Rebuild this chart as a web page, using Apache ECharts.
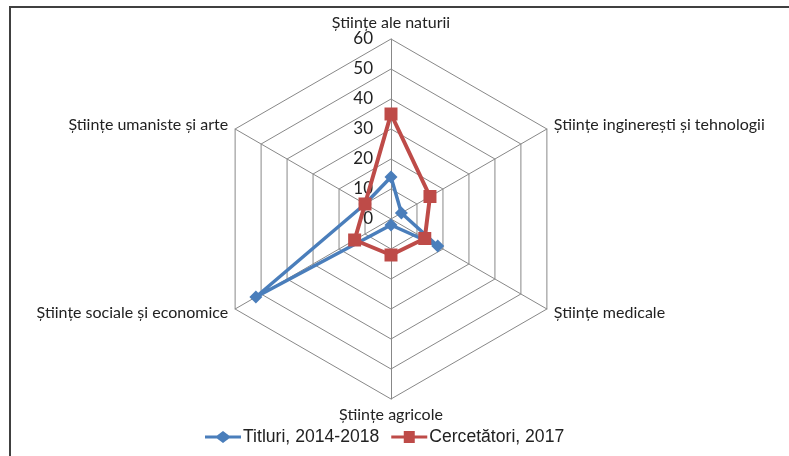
<!DOCTYPE html>
<html>
<head>
<meta charset="utf-8">
<script src="https://cdn.jsdelivr.net/npm/echarts@6/dist/echarts.min.js"></script>
<style>html,body{margin:0;padding:0;background:#fff}#c{width:789px;height:456px}</style>
</head>
<body>
<div id="c"></div>
<script>
// Indicators in ECharts order (counter-clockwise from top)
const categories = ['Științe ale naturii', 'Științe umaniste și arte', 'Științe sociale și economice', 'Științe agricole', 'Științe medicale', 'Științe inginerești și tehnologii'];
const seriesNames = ['Titluri, 2014-2018', 'Cercetători, 2017'];
const titluri = [14, 10, 52, 2, 18, 4];
const cercetatori = [35, 10, 14, 12, 13, 15];
const axisMax = 60;

const blue = '#4a7ebb', red = '#be4b48';
const diamondIcon = 'path://M0 4.5 L12 4.5 L18 0 L24 4.5 L36 4.5 L36 7.5 L24 7.5 L18 12 L12 7.5 L0 7.5 Z';
const squareIcon = 'path://M0 4.5 L12.5 4.5 L12.5 0 L23.5 0 L23.5 4.5 L36 4.5 L36 7.5 L23.5 7.5 L23.5 12 L12.5 12 L12.5 7.5 L0 7.5 Z';

const chart = echarts.init(document.getElementById('c'), null, {renderer: 'canvas'});
const indicator = categories.map((name, i) => {
  const o = {name: name, max: axisMax, min: 0};
  if (i !== 0) o.axisLabel = {show: false};
  return o;
});
chart.setOption({
  backgroundColor: '#fff',
  animation: false,
  graphic: [{
    type: 'rect', shape: {x: 10, y: 7, width: 900, height: 600},
    style: {fill: 'none', stroke: '#404040', lineWidth: 2}, silent: true
  }],
  legend: {
    top: 423, left: 200,
    itemWidth: 36, itemHeight: 12, itemGap: 12,
    textStyle: {fontFamily: 'Liberation Sans', fontSize: 17.6, color: '#222', padding: [0, 0, 0, -3]},
    data: [{name: seriesNames[0], icon: diamondIcon}, {name: seriesNames[1], icon: squareIcon}]
  },
  radar: {
    center: [391, 219], radius: 180,
    startAngle: 90, splitNumber: 6, shape: 'polygon',
    axisName: {fontFamily: 'Lato', fontSize: 16, color: '#222'},
    nameGap: 8,
    splitLine: {lineStyle: {color: '#888', width: 1}},
    splitArea: {show: false},
    axisLine: {lineStyle: {color: '#888', width: 1}},
    axisTick: {show: false},
    axisLabel: {show: true, fontFamily: 'Lato', fontSize: 17, color: '#222', margin: 18},
    indicator: indicator
  },
  series: [{
    type: 'radar',
    data: [
      {name: seriesNames[0], value: titluri, symbol: 'diamond', symbolSize: 13,
       lineStyle: {color: blue, width: 3.5}, itemStyle: {color: blue}},
      {name: seriesNames[1], value: cercetatori, symbol: 'rect', symbolSize: 13,
       lineStyle: {color: red, width: 4}, itemStyle: {color: red}}
    ]
  }]
});
</script>
</body>
</html>
